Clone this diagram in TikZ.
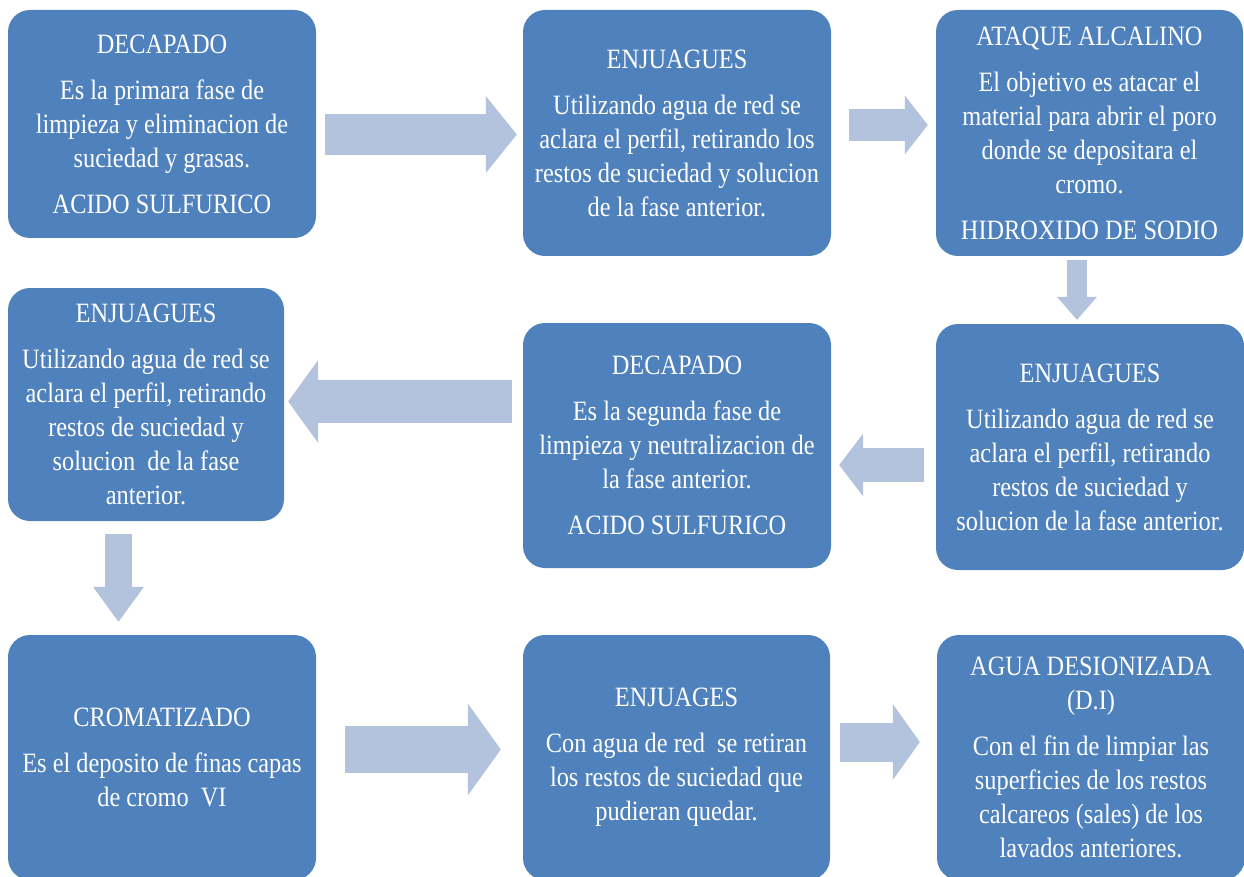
\documentclass[tikz,border=0pt]{standalone}
\usepackage{fontspec}
\setmainfont{Liberation Serif}[FakeStretch=0.87]
\usepackage{tikz}
\usetikzlibrary{arrows.meta}
\definecolor{azulcaja}{RGB}{79,129,189}
\definecolor{azulflecha}{RGB}{179,194,221}

\begin{document}
\begin{tikzpicture}[x=1pt, y=-1pt,
  caja/.style={fill=azulcaja, text=white, rounded corners=22pt, align=center,
    inner sep=0pt, font=\fontsize{28}{34}\selectfont},
  flecha/.style n args={3}{draw=azulflecha, line width=#1,
    -{Triangle[length=#2, width=#3, line width=0pt]}}]

\useasboundingbox (0,0) rectangle (1244,877);
\clip (0,0) rectangle (1244,877);

\node[caja, minimum width=308pt, minimum height=228pt] (decapado1) at (162,124)
  {DECAPADO\\[12pt] Es la primara fase de\\ limpieza y eliminacion de\\ suciedad y grasas.\\[12pt] ACIDO SULFURICO};
\node[caja, minimum width=308pt, minimum height=246pt] (enjuague1) at (677,133)
  {ENJUAGUES\\[12pt] Utilizando agua de red se\\ aclara el perfil, retirando los\\ restos de suciedad y solucion\\ de la fase anterior.};
\node[caja, minimum width=307pt, minimum height=246pt] (ataque) at (1089.5,133)
  {ATAQUE ALCALINO\\[12pt] El objetivo es atacar el\\ material para abrir el poro\\ donde se depositara el\\ cromo.\\[12pt] HIDROXIDO DE SODIO};
\node[caja, minimum width=308pt, minimum height=246pt] (enjuague2) at (1090,447)
  {ENJUAGUES\\[12pt] Utilizando agua de red se\\ aclara el perfil, retirando\\ restos de suciedad y\\ solucion de la fase anterior.};
\node[caja, minimum width=308pt, minimum height=245pt] (decapado2) at (677,445.5)
  {DECAPADO\\[12pt] Es la segunda fase de\\ limpieza y neutralizacion de\\ la fase anterior.\\[12pt] ACIDO SULFURICO};
\node[caja, minimum width=276pt, minimum height=233pt] (enjuague3) at (146,404.5)
  {ENJUAGUES\\[12pt] Utilizando agua de red se\\ aclara el perfil, retirando\\ restos de suciedad y\\ solucion\ \ de la fase\\ anterior.};
\node[caja, minimum width=308pt, minimum height=245pt] (cromatizado) at (162,757.5)
  {CROMATIZADO\\[12pt] Es el deposito de finas capas\\ de cromo\ \ VI};
\node[caja, minimum width=307pt, minimum height=245pt] (enjuague4) at (676.5,757.5)
  {ENJUAGES\\[12pt] Con agua de red\ \ se retiran\\ los restos de suciedad que\\ pudieran quedar.};
\node[caja, minimum width=308pt, minimum height=245pt] (desionizada) at (1091,757.5)
  {AGUA DESIONIZADA\\ (D.I)\\[12pt] Con el fin de limpiar las\\ superficies de los restos\\ calcareos (sales) de los\\ lavados anteriores.};

\draw[flecha={41pt}{31pt}{77pt}, shorten <=9pt, shorten >=6pt]
  ([yshift=-10.5pt]decapado1.east) -- ([yshift=-1.5pt]enjuague1.west);
\draw[flecha={32pt}{23pt}{59pt}, shorten <=18pt, shorten >=8pt]
  ([yshift=8pt]enjuague1.east) -- ([yshift=8pt]ataque.west);
\draw[flecha={20pt}{23pt}{40pt}, shorten <=4pt, shorten >=4pt]
  ([xshift=-12.5pt]ataque.south) -- ([xshift=-13pt]enjuague2.north);
\draw[flecha={34pt}{24pt}{63pt}, shorten <=12pt, shorten >=8pt]
  ([yshift=-18pt]enjuague2.west) -- ([yshift=-19.5pt]decapado2.east);
\draw[flecha={43pt}{30pt}{83pt}, shorten <=11pt, shorten >=4pt]
  ([yshift=44pt]decapado2.west) -- ([yshift=3pt]enjuague3.east);
\draw[flecha={27pt}{35pt}{51pt}, shorten <=13pt, shorten >=13pt]
  ([xshift=-27.5pt]enjuague3.south) -- ([xshift=-43.5pt]cromatizado.north);
\draw[flecha={47pt}{33pt}{92pt}, shorten <=29pt, shorten >=22pt]
  ([yshift=8pt]cromatizado.east) -- ([yshift=8pt]enjuague4.west);
\draw[flecha={39pt}{27pt}{76pt}, shorten <=10pt, shorten >=17pt]
  ([yshift=15.5pt]enjuague4.east) -- ([yshift=15.5pt]desionizada.west);

\end{tikzpicture}
\end{document}
